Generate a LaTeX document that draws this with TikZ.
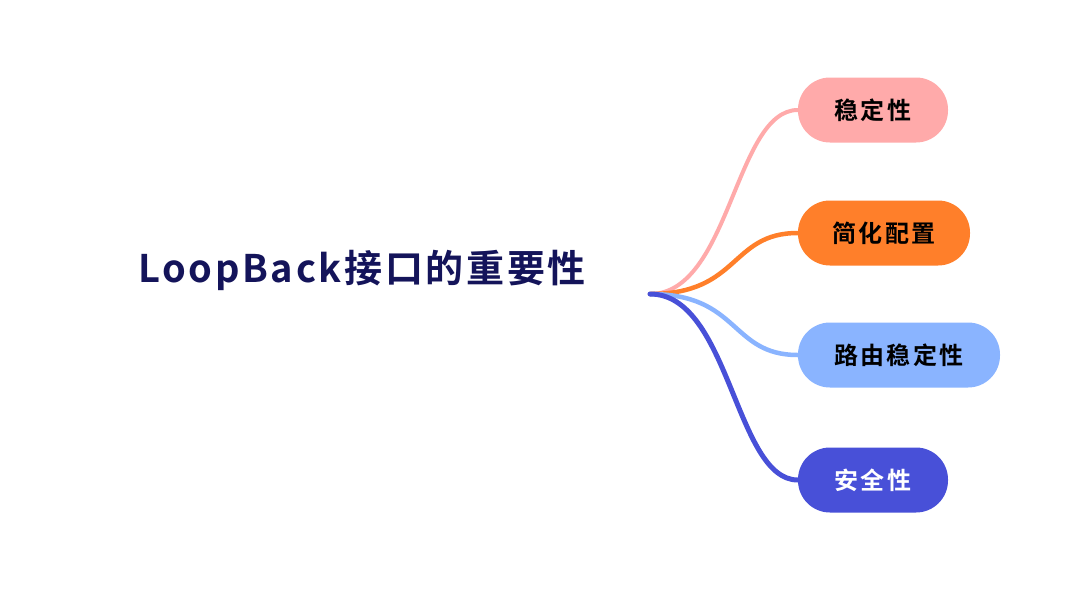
\documentclass[tikz,border=0pt]{standalone}
\usepackage{fontspec}
\setmainfont{Noto Sans CJK SC Bold}
\newfontfamily\titlefont[LetterSpace=7]{Noto Sans CJK SC Bold}
\newfontfamily\branchfont[LetterSpace=9]{Noto Sans CJK SC Bold}
\definecolor{navy}{RGB}{20,20,90}
\definecolor{cpink}{RGB}{255,170,170}
\definecolor{corange}{RGB}{255,127,42}
\definecolor{clblue}{RGB}{138,180,255}
\definecolor{cblue}{RGB}{72,80,216}
\begin{document}
\begin{tikzpicture}[x=1pt,y=-1pt,
  pill/.style={rounded corners=32pt, inner sep=0pt, minimum height=65pt, text=black, font=\branchfont\fontsize{24}{24}\selectfont},
  branch/.style={line width=4.5pt, line cap=round}]
\useasboundingbox[fill=white] (0,0) rectangle (1080,590);
\node[text=navy, font=\titlefont\fontsize{38}{38}\selectfont, anchor=center] (title) at (362,270) {LoopBack接口的重要性};
\coordinate (o) at (650,294);
\node[pill, fill=cpink, minimum width=150pt] (n1) at (873,110) {稳定性};
\node[pill, fill=corange, minimum width=172pt] (n2) at (884,233) {简化配置};
\node[pill, fill=clblue, minimum width=202pt] (n3) at (899,355) {路由稳定性};
\node[pill, fill=cblue, minimum width=150pt, text=white] (n4) at (873,480) {安全性};
\draw[branch, cpink, line width=4pt] (o) .. controls (730,294) and (735,110) .. (n1.west);
\draw[branch, corange] (o) .. controls (740,294) and (730,233) .. (n2.west);
\draw[branch, clblue] (o) .. controls (740,294) and (730,355) .. (n3.west);
\draw[branch, cblue, line width=5pt] (o) .. controls (730,294) and (735,480) .. (n4.west);
\end{tikzpicture}
\end{document}
